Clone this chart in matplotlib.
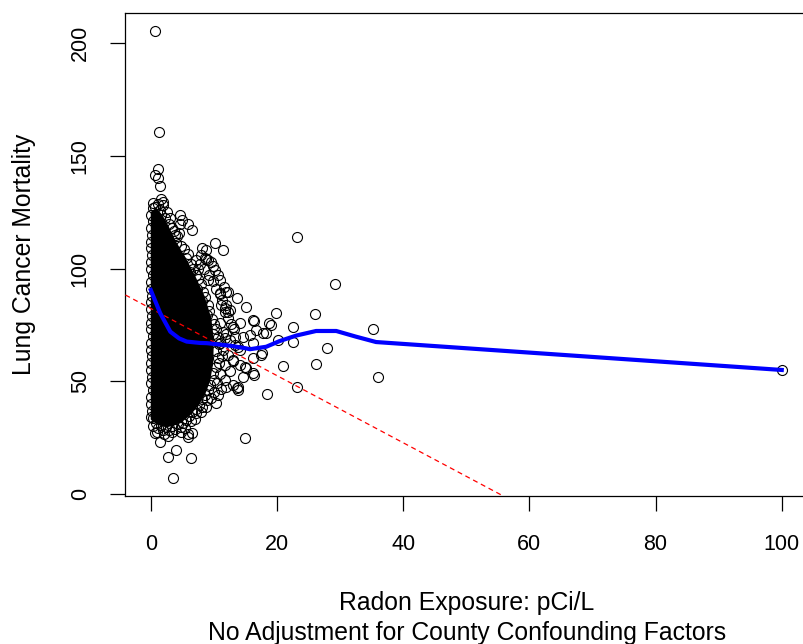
import numpy as np
import matplotlib as mpl
from matplotlib import pyplot as plt

mpl.rcParams['font.family'] = ['Liberation Sans', 'DejaVu Sans']

# solid black part of the county cloud (outline)
core_radon = [0.0, 0.0, 0.8, 1.8, 2.8, 4.0, 5.5, 7.0, 8.5, 9.6, 10.0, 9.9, 9.4, 8.6, 7.5, 6.3, 5.0, 3.8, 2.5, 1.2]
core_mort = [33, 125, 127, 124, 119, 112, 105, 97, 88, 78, 68, 58, 50, 44, 39, 35, 32, 30.5, 29.5, 30.5]

# counties (radon pCi/L, lung cancer mortality) along the edges of the cloud
left_edge = [(0.1, 34), (0.2, 37), (0.0, 40), (0.1, 43), (0.3, 46), (0.0, 49), (0.2, 52), (0.1, 55),
             (0.0, 58), (0.2, 61), (0.1, 64), (0.0, 67), (0.3, 70), (0.1, 73), (0.0, 76), (0.2, 79),
             (0.1, 82), (0.0, 85), (0.2, 88), (0.1, 91), (0.0, 94), (0.3, 97), (0.1, 100), (0.0, 103),
             (0.2, 106), (0.1, 109), (0.0, 112), (0.2, 115), (0.1, 118), (0.3, 121), (0.1, 124), (0.4, 126.7)]
upper_edge = [(0.6, 127.5), (1.1, 128.5), (1.5, 126), (1.9, 128.2), (1.7, 124), (2.2, 122.5), (2.6, 125),
              (2.9, 120), (3.3, 118), (3.0, 122.6), (3.7, 116.5), (4.2, 114.5), (4.0, 111.5), (4.8, 110),
              (5.3, 108.5), (5.6, 104.6), (5.9, 106.5), (6.4, 102), (6.7, 100), (6.2, 98.5), (7.1, 97.2),
              (7.5, 95.5), (7.9, 93), (7.4, 91), (8.3, 89.5), (8.6, 87.2), (8.1, 85.4), (9.0, 84), (9.3, 81),
              (8.9, 79.2), (9.7, 77.5), (10.1, 75.5), (10.4, 73), (9.9, 71), (10.6, 69.5), (10.8, 66.5)]
lower_edge = [(10.6, 60.5), (10.3, 63.5), (10.3, 56.5), (9.9, 53.5), (10.1, 50.6), (9.4, 48.5), (9.0, 46),
              (8.6, 44), (8.9, 41.6), (8.1, 42.2), (7.7, 39.5), (7.2, 37.8), (7.9, 36.5), (6.6, 36.2),
              (6.1, 34.6), (6.4, 32.4), (5.6, 33), (5.1, 31.6), (4.8, 29.5), (4.3, 30.8), (3.8, 29),
              (3.3, 30.2), (2.9, 28.2), (2.4, 29.5), (2.0, 28.4), (1.6, 30.5), (1.2, 29.2), (0.8, 31.4),
              (0.4, 30.2), (0.3, 33.5), (7.0, 33.2), (8.2, 38.6), (5.4, 29.2), (3.4, 27.3), (2.1, 26.5),
              (1.0, 27.4), (9.6, 42.5), (10.6, 44)]
fringe = [(7.2, 104), (7.8, 102), (8.5, 100), (9.2, 97), (9.8, 94.5), (10.4, 91), (10.9, 88.5), (11.3, 86),
          (9.5, 103), (10.2, 99.5), (11.0, 95), (11.6, 92), (12.0, 89.5), (8.0, 106), (8.8, 104.2),
          (9.8, 101), (10.6, 97.3), (11.2, 84), (11.8, 80.6), (12.2, 78), (12.7, 75.6), (13.2, 73),
          (12.0, 71), (12.6, 68.5), (13.4, 66), (11.5, 64), (12.3, 61.5), (13.0, 59), (11.7, 57),
          (12.5, 54.5), (11.0, 53), (11.8, 50.5), (10.5, 49), (11.2, 46.5), (10.0, 45), (13.0, 74.2),
          (13.3, 69.8), (13.8, 65.4), (13.0, 59.4), (14.1, 57.2), (12.0, 83.8), (12.5, 81.6), (9.1, 95),
          (7.5, 100), (9.1, 103.8), (8.6, 104.6), (10.8, 58), (11.3, 61), (11.0, 67), (11.4, 72),
          (11.0, 76), (11.7, 69)]
outliers = [(0.7, 205.5), (1.3, 160.7), (1.1, 144.2), (0.6, 141.5), (1.2, 140), (1.5, 136.8), (1.7, 131),
            (1.9, 129.5), (0.3, 129), (4.7, 123.8), (4.9, 121.6), (4.6, 120), (5.9, 120), (6.5, 117),
            (3.9, 115), (4.5, 115.7), (8.1, 109), (8.7, 108.3), (10.2, 111.2), (11.5, 108.3), (10.9, 89),
            (12.3, 89.8), (13.6, 86.8), (11.7, 82.4), (15.1, 83.1), (12.3, 80.9), (16.2, 77.2), (18.8, 75.7),
            (19.9, 80.2), (16.7, 72.8), (17.8, 71.3), (14.1, 75.7), (14.6, 69.8), (16.3, 76.9), (19.0, 75),
            (15.7, 70.5), (16.2, 66.9), (14.2, 63.9), (17.6, 62.4), (16.2, 60.2), (14.9, 56.5), (16.3, 52.8),
            (14.6, 52), (13.8, 47.6), (13.0, 48.4), (18.3, 71.3), (20.1, 68.3), (17.5, 61.7), (15.1, 55.8),
            (16.2, 53.5), (13.6, 46.9), (13.8, 46.1), (11.9, 47.6), (10.3, 40.2), (8.7, 38.7), (7.2, 35.8),
            (23.1, 114), (29.2, 93.2), (26.0, 79.7), (35.2, 73.1), (22.6, 74.0), (22.6, 67.6), (28.0, 64.6),
            (20.9, 56.9), (26.2, 57.5), (36.0, 51.8), (23.1, 47.6), (18.5, 44.2), (14.9, 24.7), (100, 55),
            (0.6, 26.9), (1.4, 23.2), (2.7, 25.7), (5.9, 26.6), (4.8, 27.6), (6.6, 26.9), (5.9, 25.4),
            (2.7, 16.3), (4.0, 19.5), (6.4, 15.8), (3.5, 7.0)]

# lowess smooth
lowess_radon = [0, 1.5, 3.1, 4.5, 5.7, 7.8, 8.9, 12.5, 15.1, 15.7, 18.3, 20.4, 23.1, 26.2, 29.4, 32.5, 35.7, 39.3, 100]
lowess_mort = [90.5, 80.2, 72, 69, 67.6, 67.0, 66.9, 65.8, 64.6, 64.2, 65.3, 67.8, 70.3, 72.3, 72.3, 69.8, 67.4, 66.7, 55]

# linear fit (abline)
fit_a = 82.3
fit_b = -1.49

pts = np.array(left_edge + upper_edge + lower_edge + fringe + outliers)
radon = pts[:, 0]
mort = pts[:, 1]

fig = plt.figure(figsize=(8.04, 6.44), dpi=100)
ax = fig.add_axes([125.5/804, 1 - 496/644, 681.5/804, 483/644])

ax.fill(core_radon, core_mort, color='black', lw=0, zorder=1)
ax.plot(radon, mort, 'o', mfc='none', mec='black', ms=7.2, mew=0.8, zorder=2)
ax.axline((0, fit_a), slope=fit_b, color='red', lw=0.9, dashes=(4, 3), zorder=3)
ax.plot(lowess_radon, lowess_mort, color='blue', lw=3, zorder=4)

# R style 4% padding
xr = radon.max() - radon.min()
yr = mort.max() - mort.min()
ax.set_xlim(radon.min() - 0.04*xr, radon.max() + 0.04*xr)
ax.set_ylim(mort.min() - 0.04*yr, mort.max() + 0.04*yr)

ax.set_xticks(range(0, 101, 20))
ax.set_yticks(range(0, 201, 50))
ax.tick_params(direction='out', length=11, width=0.9, labelsize=15.5)
ax.tick_params(axis='x', pad=16)
ax.tick_params(axis='y', pad=14, labelrotation=90)
for lbl in ax.get_yticklabels():
    lbl.set_va('center')
for s in ax.spines.values():
    s.set_linewidth(0.9)

fig.text(467/804, 1 - 603/644, 'Radon Exposure: pCi/L', ha='center', va='center', fontsize=17.8)
fig.text(467/804, 1 - 633/644, 'No Adjustment for County Confounding Factors', ha='center', va='center', fontsize=17.8)
fig.text(24/804, 1 - 254/644, 'Lung Cancer Mortality', rotation=90, ha='center', va='center', fontsize=17.8)

plt.savefig('out.png', dpi=100)
